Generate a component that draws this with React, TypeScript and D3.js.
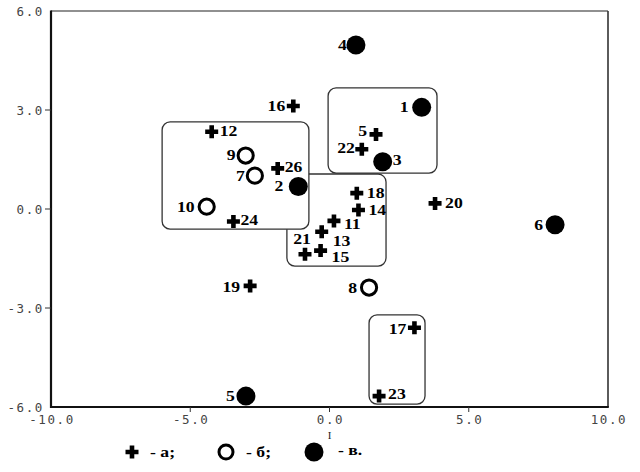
import React from 'react';
import * as d3 from 'd3';

// ---- data ----
const xTicks = [-10, -5, 0, 5, 10];
const yTicks = [-6, -3, 0, 3, 6];

const crossIds = ['16', '12', '5', '22', '26', '24', '18', '14', '20', '11', '13', '21', '15', '19', '17', '23'];
const crossX = [-1.3, -4.23, 1.67, 1.16, -1.86, -3.45, 0.98, 1.04, 3.79, 0.16, -0.28, -0.88, -0.32, -2.85, 3.05, 1.78];
const crossY = [3.12, 2.34, 2.26, 1.81, 1.23, -0.38, 0.48, -0.03, 0.17, -0.36, -0.69, -1.37, -1.26, -2.33, -3.6, -5.67];

const openIds = ['9', '7', '10', '8'];
const openX = [-3.01, -2.68, -4.41, 1.42];
const openY = [1.62, 1.01, 0.07, -2.38];

const filledIds = ['4', '1', '3', '2', '6', '5'];
const filledX = [0.95, 3.31, 1.91, -1.12, 8.1, -3.0];
const filledY = [4.97, 3.08, 1.43, 0.68, -0.48, -5.67];

// groups enclosed by rounded frames: [x0, x1, y0, y1] in data units
const boxC = [-1.53, 2.03, 1.06, -1.73];
const boxB = [-0.05, 3.86, 3.67, 1.09];
const boxA = [-6.01, -0.74, 2.64, -0.61];
const boxD = [1.42, 3.43, -3.21, -5.91];

const legendLabels = ['- а;', '- б;', '- в.'];
const xTitle = 'I';

// label placement (pixel offset from marker, anchor)
const crossLabelPos: Record<string, [number, number, string]> = {
  '16': [-8, 0, 'end'], '12': [8, -1, 'start'], '5': [-9, -3, 'end'], '22': [-7, -1, 'end'],
  '26': [7, -1, 'start'], '24': [7, -1, 'start'], '18': [10, 0, 'start'], '14': [10, 0, 'start'],
  '20': [10, 0, 'start'], '11': [10, 3, 'start'], '13': [11, 9, 'start'], '21': [-3, -15, 'middle'],
  '15': [11, 6, 'start'], '19': [-10, 1, 'end'], '17': [-8, 1, 'end'], '23': [9, -2, 'start'],
};
const openLabelPos: Record<string, [number, number, string]> = {
  '9': [-10, 0, 'end'], '7': [-10, 0, 'end'], '10': [-12, 0, 'end'], '8': [-12, 1, 'end'],
};
const filledLabelPos: Record<string, [number, number, string]> = {
  '4': [-9, 0, 'end'], '1': [-13, 0, 'end'], '3': [10, -2, 'start'], '2': [-15, 0, 'end'],
  '6': [-12, 0, 'end'], '5': [-11, 0, 'end'],
};

const W = 640;
const H = 472;
const left = 51, right = 608, top = 11, bottom = 407;

const crossPath = (s: number, t: number) => {
  const a = s / 2, b = t / 2;
  return `M${-b},${-a}H${b}V${-b}H${a}V${b}H${b}V${a}H${-b}V${b}H${-a}V${-b}H${-b}Z`;
};

const labelFont = "'Liberation Serif', 'Times New Roman', serif";
const tickFont = "'DejaVu Sans Mono', monospace";
const LFS = 14.5;
const LSX = 1.22;

function Label({ x, y, text, pos }: { x: number; y: number; text: string; pos: [number, number, string] }) {
  return (
    <g transform={`translate(${x + pos[0]},${y + pos[1]}) scale(${LSX},1)`}>
      <text
        textAnchor={pos[2] as any}
        dominantBaseline="central"
        fontFamily={labelFont}
        fontWeight="bold"
        fontSize={LFS}
        fill="#000"
      >
        {text}
      </text>
    </g>
  );
}

export default function App() {
  const x = d3.scaleLinear().domain([-10, 10]).range([left, right]);
  const y = d3.scaleLinear().domain([-6, 6]).range([bottom, top]);

  const box = (b: number[], key: string) => {
    const x0 = x(b[0]), x1 = x(b[1]), y0 = y(b[2]), y1 = y(b[3]);
    return (
      <rect key={key} x={x0} y={y0} width={x1 - x0} height={y1 - y0} rx={8} ry={8}
        fill="#fff" stroke="#333" strokeWidth={1.3} />
    );
  };

  return (
    <svg width={W} height={H} style={{ position: 'fixed', left: 0, top: 0, background: '#fff' }}>
      <rect x={0} y={0} width={W} height={H} fill="#fff" />
      {/* frame */}
      <line x1={left} y1={top} x2={right} y2={top} stroke="#222" strokeWidth={1.2} />
      <line x1={right} y1={top} x2={right} y2={bottom} stroke="#333" strokeWidth={1.6} />
      <line x1={left} y1={top - 0.6} x2={left} y2={bottom + 1} stroke="#111" strokeWidth={2.2} />
      <line x1={left - 1} y1={bottom} x2={right + 0.8} y2={bottom} stroke="#111" strokeWidth={2.2} />

      {/* y ticks */}
      {yTicks.map((t) => (
        <g key={'yt' + t}>
          {t !== 6 && t !== -6 && (
            <line x1={left - 6} x2={left} y1={y(t)} y2={y(t)} stroke="#333" strokeWidth={1} />
          )}
          <text x={left - 7} y={y(t)} textAnchor="end" dominantBaseline="central"
            fontFamily={tickFont} fontSize={12.5} letterSpacing={1.6} fill="#444">
            {t.toFixed(1)}
          </text>
        </g>
      ))}
      {/* x ticks */}
      {xTicks.map((t) => (
        <g key={'xt' + t}>
          {t !== -10 && t !== 10 && (
            <line x1={x(t)} x2={x(t)} y1={bottom} y2={bottom + 5} stroke="#333" strokeWidth={1} />
          )}
          <text x={x(t) + 1} y={bottom + 17} textAnchor="middle"
            fontFamily={tickFont} fontSize={12.5} letterSpacing={1.6} fill="#444">
            {t.toFixed(1)}
          </text>
        </g>
      ))}
      <text x={x(0)} y={bottom + 32} textAnchor="middle" fontFamily={labelFont} fontSize={11} fill="#222">
        {xTitle}
      </text>

      {/* frames around groups */}
      {box(boxC, 'C')}
      {box(boxB, 'B')}
      {box(boxA, 'A')}
      {box(boxD, 'D')}

      {/* crosses */}
      {crossIds.map((id, i) => (
        <g key={'c' + id}>
          <path d={crossPath(13, 4.6)} transform={`translate(${x(crossX[i])},${y(crossY[i])})`} fill="#000" />
          <Label x={x(crossX[i])} y={y(crossY[i])} text={id} pos={crossLabelPos[id]} />
        </g>
      ))}
      {/* open circles */}
      {openIds.map((id, i) => (
        <g key={'o' + id}>
          <circle cx={x(openX[i])} cy={y(openY[i])} r={7.6} fill="#fff" stroke="#000" strokeWidth={3} />
          <Label x={x(openX[i])} y={y(openY[i])} text={id} pos={openLabelPos[id]} />
        </g>
      ))}
      {/* filled circles */}
      {filledIds.map((id, i) => (
        <g key={'f' + id}>
          <circle cx={x(filledX[i])} cy={y(filledY[i])} r={9.5} fill="#000" />
          <Label x={x(filledX[i])} y={y(filledY[i])} text={id} pos={filledLabelPos[id]} />
        </g>
      ))}

      {/* legend */}
      <g>
        <path d={crossPath(13, 4.6)} transform="translate(132,452)" fill="#000" />
        <g transform={`translate(150,452) scale(${LSX},1)`}>
          <text dominantBaseline="central" fontFamily={labelFont} fontWeight="bold" fontSize={LFS}>{legendLabels[0]}</text>
        </g>
        <circle cx={226} cy={452} r={7} fill="#fff" stroke="#000" strokeWidth={3} />
        <g transform={`translate(246,452) scale(${LSX},1)`}>
          <text dominantBaseline="central" fontFamily={labelFont} fontWeight="bold" fontSize={LFS}>{legendLabels[1]}</text>
        </g>
        <circle cx={314} cy={452} r={9.5} fill="#000" />
        <g transform={`translate(338,450) scale(${LSX},1)`}>
          <text dominantBaseline="central" fontFamily={labelFont} fontWeight="bold" fontSize={LFS}>{legendLabels[2]}</text>
        </g>
      </g>
    </svg>
  );
}
